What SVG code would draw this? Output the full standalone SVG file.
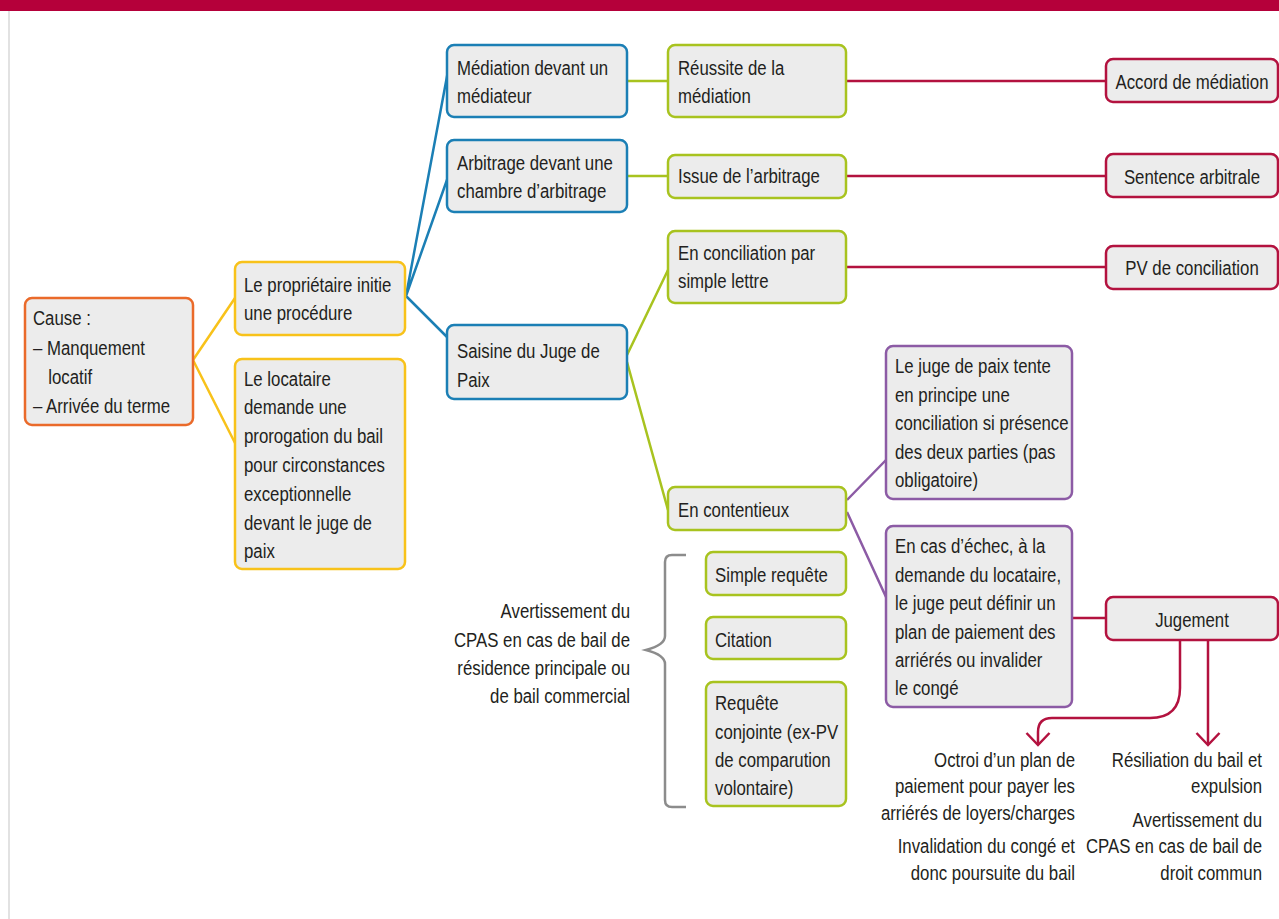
<svg xmlns="http://www.w3.org/2000/svg" width="1279" height="919" viewBox="0 0 1279 919">
  <style>
    text { font-family: "Liberation Sans", Arial, sans-serif; font-size: 21px; fill: #231f20; }
    .box { fill: #ececec; stroke-width: 2.5; }
    .orange { stroke: #ea6a2a; }
    .yellow { stroke: #f8c21a; }
    .blue { stroke: #1b7fb5; }
    .green { stroke: #a8c31f; }
    .crimson { stroke: #b3123f; }
    .purple { stroke: #8c5ba5; }
    .line { fill: none; stroke-width: 2.5; }
    .mid { text-anchor: middle; }
    .end { text-anchor: end; }
  </style>
  <defs>
    <marker id="vee" viewBox="-1 -1 15 26" refX="12" refY="12" markerWidth="15" markerHeight="26" markerUnits="userSpaceOnUse" orient="auto">
      <path d="M0,0.5 L12,12 L0,23.5" fill="none" stroke="#b3123f" stroke-width="2.5"/>
    </marker>
  </defs>

  <!-- page frame -->
  <rect x="0" y="0" width="1279" height="11" fill="#b5003a"/>
  <line x1="9" y1="11" x2="9" y2="919" stroke="#e2e2e2" stroke-width="2"/>

  <!-- connectors -->
  <g id="connectors">
    <path class="line yellow" d="M193,360 L235,298 M193,360 L235,443"/>
    <path class="line blue" d="M406,296 L448,71 M406,296 L448,177 M406,296 L448,338"/>
    <path class="line green" d="M627,81 L668,81 M627,176 L668,176 M627,355 L668,270 M627,362 L668,510"/>
    <path class="line crimson" d="M846,81 L1106,81 M846,176 L1106,176 M846,267 L1106,267 M1072,618 L1106,618"/>
    <path class="line purple" d="M847,500 L886,460 M847,512 L886,597"/>
    <path class="line crimson" d="M1180,640 L1180,688 Q1180,718 1150,718 L1052,718 Q1038,718 1038,732 L1038,745" marker-end="url(#vee)"/>
    <path class="line crimson" d="M1208,640 L1208,745" marker-end="url(#vee)"/>
    <path class="line" stroke="#8c8c8c" d="M686,555 L672,555 Q665,555 665,562 L665,636 Q665,645 646,650 Q665,655 665,664 L665,800 Q665,807 672,807 L686,807"/>
  </g>

  <g id="cause">
    <rect class="box orange" x="25" y="298" width="168" height="127" rx="7"/>
    <g transform="translate(33 0) scale(0.8 1)">
      <text x="0" y="325">Cause :</text>
      <text x="0" y="355">– Manquement</text>
      <text x="19" y="384">locatif</text>
      <text x="0" y="413">– Arrivée du terme</text>
    </g>
  </g>

  <g id="proprietaire">
    <rect class="box yellow" x="235" y="262" width="170" height="73" rx="7"/>
    <g transform="translate(244 0) scale(0.8 1)">
      <text x="0" y="292">Le propriétaire initie</text>
      <text x="0" y="320">une procédure</text>
    </g>
  </g>

  <g id="locataire">
    <rect class="box yellow" x="235" y="359" width="170" height="210" rx="7"/>
    <g transform="translate(244 0) scale(0.8 1)">
      <text x="0" y="386">Le locataire</text>
      <text x="0" y="414">demande une</text>
      <text x="0" y="443">prorogation du bail</text>
      <text x="0" y="472">pour circonstances</text>
      <text x="0" y="501">exceptionnelle</text>
      <text x="0" y="530">devant le juge de</text>
      <text x="0" y="558">paix</text>
    </g>
  </g>

  <g id="mediation">
    <rect class="box blue" x="447" y="45" width="180" height="72" rx="7"/>
    <g transform="translate(457 0) scale(0.8 1)">
      <text x="0" y="75">Médiation devant un</text>
      <text x="0" y="103">médiateur</text>
    </g>
  </g>

  <g id="arbitrage">
    <rect class="box blue" x="447" y="140" width="180" height="72" rx="7"/>
    <g transform="translate(457 0) scale(0.8 1)">
      <text x="0" y="170">Arbitrage devant une</text>
      <text x="0" y="198">chambre d’arbitrage</text>
    </g>
  </g>

  <g id="saisine">
    <rect class="box blue" x="447" y="325" width="180" height="74" rx="7"/>
    <g transform="translate(457 0) scale(0.8 1)">
      <text x="0" y="358">Saisine du Juge de</text>
      <text x="0" y="387">Paix</text>
    </g>
  </g>

  <g id="reussite">
    <rect class="box green" x="668" y="45" width="178" height="72" rx="7"/>
    <g transform="translate(678 0) scale(0.8 1)">
      <text x="0" y="75">Réussite de la</text>
      <text x="0" y="103">médiation</text>
    </g>
  </g>

  <g id="issue">
    <rect class="box green" x="668" y="155" width="178" height="43" rx="7"/>
    <g transform="translate(678 0) scale(0.8 1)">
      <text x="0" y="183">Issue de l’arbitrage</text>
    </g>
  </g>

  <g id="conciliation">
    <rect class="box green" x="668" y="231" width="178" height="72" rx="7"/>
    <g transform="translate(678 0) scale(0.8 1)">
      <text x="0" y="260">En conciliation par</text>
      <text x="0" y="288">simple lettre</text>
    </g>
  </g>

  <g id="contentieux">
    <rect class="box green" x="668" y="487" width="178" height="43" rx="7"/>
    <g transform="translate(678 0) scale(0.8 1)">
      <text x="0" y="517">En contentieux</text>
    </g>
  </g>

  <g id="accord">
    <rect class="box crimson" x="1106" y="59" width="172" height="43" rx="7"/>
    <g transform="translate(1192 0) scale(0.8 1)">
      <text class="mid" x="0" y="89">Accord de médiation</text>
    </g>
  </g>

  <g id="sentence">
    <rect class="box crimson" x="1106" y="154" width="172" height="43" rx="7"/>
    <g transform="translate(1192 0) scale(0.8 1)">
      <text class="mid" x="0" y="184">Sentence arbitrale</text>
    </g>
  </g>

  <g id="pv">
    <rect class="box crimson" x="1106" y="246" width="172" height="43" rx="7"/>
    <g transform="translate(1192 0) scale(0.8 1)">
      <text class="mid" x="0" y="275">PV de conciliation</text>
    </g>
  </g>

  <g id="tentative">
    <rect class="box purple" x="886" y="346" width="186" height="153" rx="7"/>
    <g transform="translate(895 0) scale(0.8 1)">
      <text x="0" y="373">Le juge de paix tente</text>
      <text x="0" y="402">en principe une</text>
      <text x="0" y="430">conciliation si présence</text>
      <text x="0" y="459">des deux parties (pas</text>
      <text x="0" y="487">obligatoire)</text>
    </g>
  </g>

  <g id="echec">
    <rect class="box purple" x="886" y="526" width="186" height="181" rx="7"/>
    <g transform="translate(895 0) scale(0.8 1)">
      <text x="0" y="553">En cas d’échec, à la</text>
      <text x="0" y="582">demande du locataire,</text>
      <text x="0" y="610">le juge peut définir un</text>
      <text x="0" y="639">plan de paiement des</text>
      <text x="0" y="667">arriérés ou invalider</text>
      <text x="0" y="695">le congé</text>
    </g>
  </g>

  <g id="jugement">
    <rect class="box crimson" x="1106" y="597" width="172" height="43" rx="7"/>
    <g transform="translate(1192 0) scale(0.8 1)">
      <text class="mid" x="0" y="627">Jugement</text>
    </g>
  </g>

  <g id="simple-requete">
    <rect class="box green" x="706" y="552" width="140" height="43" rx="7"/>
    <g transform="translate(715 0) scale(0.8 1)">
      <text x="0" y="582">Simple requête</text>
    </g>
  </g>

  <g id="citation">
    <rect class="box green" x="706" y="617" width="140" height="42" rx="7"/>
    <g transform="translate(715 0) scale(0.8 1)">
      <text x="0" y="647">Citation</text>
    </g>
  </g>

  <g id="requete-conjointe">
    <rect class="box green" x="706" y="682" width="140" height="124" rx="7"/>
    <g transform="translate(715 0) scale(0.8 1)">
      <text x="0" y="710">Requête</text>
      <text x="0" y="739">conjointe (ex-PV</text>
      <text x="0" y="767">de comparution</text>
      <text x="0" y="795">volontaire)</text>
    </g>
  </g>

  <g id="avertissement-cpas">
    <g transform="translate(630 0) scale(0.8 1)">
      <text class="end" x="0" y="618">Avertissement du</text>
      <text class="end" x="0" y="647">CPAS en cas de bail de</text>
      <text class="end" x="0" y="675">résidence principale ou</text>
      <text class="end" x="0" y="703">de bail commercial</text>
    </g>
  </g>

  <g id="octroi">
    <g transform="translate(1075 0) scale(0.8 1)">
      <text class="end" x="0" y="767">Octroi d’un plan de</text>
      <text class="end" x="0" y="793">paiement pour payer les</text>
      <text class="end" x="0" y="820">arriérés de loyers/charges</text>
      <text class="end" x="0" y="853">Invalidation du congé et</text>
      <text class="end" x="0" y="880">donc poursuite du bail</text>
    </g>
  </g>

  <g id="resiliation">
    <g transform="translate(1262 0) scale(0.8 1)">
      <text class="end" x="0" y="767">Résiliation du bail et</text>
      <text class="end" x="0" y="793">expulsion</text>
      <text class="end" x="0" y="827">Avertissement du</text>
      <text class="end" x="0" y="853">CPAS en cas de bail de</text>
      <text class="end" x="0" y="880">droit commun</text>
    </g>
  </g>
</svg>
